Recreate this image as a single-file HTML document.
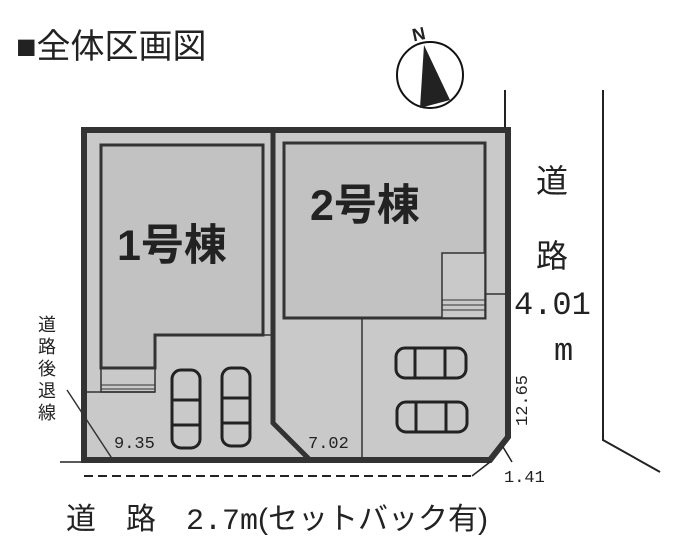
<!DOCTYPE html>
<html><head><meta charset="utf-8"><style>
body{margin:0;width:678px;height:550px;background:#fff;overflow:hidden}
text{font-family:"Liberation Sans","Noto Sans CJK JP",sans-serif;fill:#222}
text.m{font-family:"Liberation Mono",monospace}
</style></head><body>
<svg width="678" height="550" viewBox="0 0 678 550" xmlns="http://www.w3.org/2000/svg">
<text x="16" y="58" font-size="34">■全体区画図</text>
<!-- compass -->
<circle cx="430" cy="75" r="33" fill="#fff" stroke="#111" stroke-width="2"/>
<polygon points="424,45 420,108 450,100" fill="#222"/>
<text x="412" y="40" font-size="18" font-weight="bold" transform="rotate(-12 420 33)">N</text>
<!-- roads -->
<line x1="505" y1="90" x2="505" y2="128" stroke="#222" stroke-width="2"/>
<polyline points="603,90 603,440 660,472" fill="none" stroke="#222" stroke-width="2"/>
<line x1="60" y1="462" x2="84" y2="462" stroke="#222" stroke-width="1.5"/>
<!-- lot -->
<polygon points="84,130 508,130 508,437 490,460 84,460" fill="#c9c9c9" stroke="#333" stroke-width="6"/>
<polyline points="273,130 273,423 310,460" fill="none" stroke="#333" stroke-width="5"/>
<!-- house 1 -->
<polygon points="101,145 263,145 263,335 155,335 155,368 101,368" fill="#c2c2c2" stroke="#333" stroke-width="3"/>
<line x1="155" y1="335" x2="273" y2="335" stroke="#333" stroke-width="1.5"/>
<line x1="84" y1="392" x2="155" y2="392" stroke="#333" stroke-width="1.5"/>
<rect x="101" y="368" width="54" height="24" fill="none" stroke="#333" stroke-width="1.5"/>
<line x1="101" y1="385" x2="155" y2="385" stroke="#333" stroke-width="1"/>
<line x1="101" y1="389" x2="155" y2="389" stroke="#333" stroke-width="1"/>
<line x1="67" y1="390" x2="113" y2="460" stroke="#333" stroke-width="1.5"/>
<!-- house 2 -->
<polygon points="284,143 485,143 485,318 284,318" fill="#c2c2c2" stroke="#333" stroke-width="3"/>
<rect x="442" y="253" width="43" height="65" fill="#c9c9c9" stroke="#333" stroke-width="1.5"/>
<line x1="442" y1="300" x2="485" y2="300" stroke="#333" stroke-width="1"/>
<line x1="442" y1="305" x2="485" y2="305" stroke="#333" stroke-width="1"/>
<line x1="442" y1="310" x2="485" y2="310" stroke="#333" stroke-width="1"/>
<line x1="485" y1="294" x2="508" y2="294" stroke="#333" stroke-width="1.5"/>
<line x1="362" y1="318" x2="362" y2="460" stroke="#333" stroke-width="1.5"/>
<!-- cars -->
<g fill="none" stroke="#222" stroke-width="3">
<rect x="172" y="370" width="28" height="78" rx="9"/><line x1="172" y1="400" x2="200" y2="400"/><line x1="172" y1="425" x2="200" y2="425"/>
<rect x="222" y="368" width="28" height="78" rx="9"/><line x1="222" y1="398" x2="250" y2="398"/><line x1="222" y1="423" x2="250" y2="423"/>
<rect x="396" y="348" width="70" height="30" rx="9"/><line x1="415" y1="348" x2="415" y2="378"/><line x1="445" y1="348" x2="445" y2="378"/>
<rect x="397" y="402" width="70" height="30" rx="9"/><line x1="416" y1="402" x2="416" y2="432"/><line x1="446" y1="402" x2="446" y2="432"/>
</g>
<line x1="84" y1="476" x2="472" y2="476" stroke="#222" stroke-width="2" stroke-dasharray="9,5"/>
<line x1="472" y1="476" x2="490" y2="462" stroke="#222" stroke-width="1.5"/>
<line x1="503" y1="447" x2="512" y2="462" stroke="#222" stroke-width="1.5"/>
<!-- labels -->
<text x="117" y="260" font-size="43" font-weight="bold">1号棟</text>
<text x="310" y="220" font-size="43" font-weight="bold">2号棟</text>
<text class="m" x="114" y="448" font-size="17">9.35</text>
<text class="m" x="308" y="448" font-size="17">7.02</text>
<text class="m" x="504" y="482" font-size="17">1.41</text>
<text class="m" x="0" y="0" font-size="17" transform="translate(527,426) rotate(-90)">12.65</text>
<text x="536" y="192" font-size="32">道</text>
<text x="536" y="267" font-size="32">路</text>
<text class="m" x="514" y="314" font-size="32">4.01</text>
<text class="m" x="554" y="360" font-size="32">m</text>
<g font-size="18"><text x="38" y="331">道</text><text x="38" y="353">路</text><text x="38" y="375">後</text><text x="38" y="397">退</text><text x="38" y="419">線</text></g>
<text x="66" y="529" font-size="30">道　路　<tspan class="m" style="font-family:'Liberation Mono',monospace">2.7m</tspan>(セットバック有)</text>
</svg>
</body></html>
